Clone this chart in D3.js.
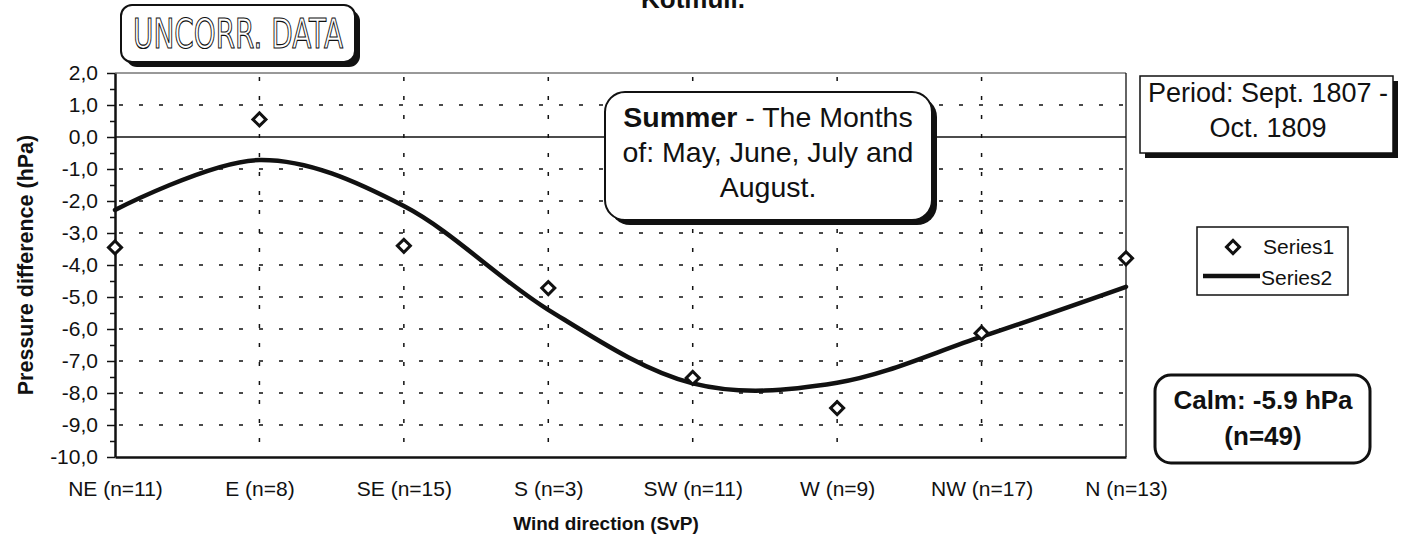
<!DOCTYPE html>
<html>
<head>
<meta charset="utf-8">
<script src="https://cdn.jsdelivr.net/npm/d3@7"></script>
<style>
  html, body { margin: 0; padding: 0; background: #fff; }
  svg { display: block; }
</style>
</head>
<body>
<div id="chart"></div>
<script>
// Wind direction categories and values
const categories = ['NE (n=11)', 'E (n=8)', 'SE (n=15)', 'S (n=3)', 'SW (n=11)', 'W (n=9)', 'NW (n=17)', 'N (n=13)'];
const series1 = [-3.45, 0.55, -3.4, -4.72, -7.53, -8.47, -6.13, -3.79];
const series2 = [-2.28, -0.72, -2.16, -5.4, -7.7, -7.68, -6.24, -4.68];
const yTicks = [2, 1, 0, -1, -2, -3, -4, -5, -6, -7, -8, -9, -10];
const yMinorTicks = [1.5, 0.5, -0.5, -1.5, -2.5, -3.5, -4.5, -5.5, -6.5, -7.5, -8.5, -9.5];
const legendLabels = ['Series1', 'Series2'];

const W = 1406, H = 539;
const font = '"Liberation Sans", Arial, sans-serif';

const svg = d3.select('#chart').append('svg')
    .attr('width', W)
    .attr('height', H)
    .attr('font-family', font);

const x = d3.scalePoint()
    .domain(categories)
    .range([115, 1126]);

const y = d3.scaleLinear()
    .domain([-10, 2])
    .range([457, 73]);

const fmt = d => d.toFixed(1).replace('.', ',');

// Grid lines
const grid = svg.append('g');
grid.selectAll('line.hgrid')
    .data(yTicks.filter(d => d !== 0 && d !== 2 && d !== -10))
    .enter().append('line')
    .attr('class', 'hgrid')
    .attr('x1', x.range()[0] + 4)
    .attr('x2', x.range()[1])
    .attr('y1', d => y(d))
    .attr('y2', d => y(d))
    .attr('stroke', '#111')
    .attr('stroke-width', 1.5)
    .attr('stroke-dasharray', '4,16');

grid.selectAll('line.vgrid')
    .data(categories.slice(1, -1))
    .enter().append('line')
    .attr('class', 'vgrid')
    .attr('x1', d => x(d))
    .attr('x2', d => x(d))
    .attr('y1', y(2) + 4)
    .attr('y2', y(-10))
    .attr('stroke', '#111')
    .attr('stroke-width', 1.5)
    .attr('stroke-dasharray', '4,15');

// Zero line, top and right border
grid.append('line')
    .attr('x1', x.range()[0]).attr('x2', x.range()[1])
    .attr('y1', y(0)).attr('y2', y(0))
    .attr('stroke', '#111').attr('stroke-width', 1.3);
grid.append('line')
    .attr('x1', x.range()[0]).attr('x2', x.range()[1])
    .attr('y1', y(2)).attr('y2', y(2))
    .attr('stroke', '#333').attr('stroke-width', 1);
grid.append('line')
    .attr('x1', x.range()[1]).attr('x2', x.range()[1])
    .attr('y1', y(2)).attr('y2', y(-10))
    .attr('stroke', '#111').attr('stroke-width', 1.3);

// Y axis
const yAxis = svg.append('g')
    .attr('transform', `translate(${x.range()[0]},0)`)
    .call(d3.axisLeft(y).tickValues(yTicks).tickFormat(fmt).tickSize(8).tickSizeOuter(0).tickPadding(9));
yAxis.selectAll('text')
    .attr('font-family', font)
    .attr('font-size', 21)
    .attr('fill', '#111');
yAxis.selectAll('line').attr('stroke', '#111').attr('stroke-width', 1.5);
yAxis.select('.domain').attr('stroke', '#111').attr('stroke-width', 2.5);

svg.append('g')
    .attr('transform', `translate(${x.range()[0]},0)`)
    .call(d3.axisLeft(y).tickValues(yMinorTicks).tickFormat('').tickSize(5).tickSizeOuter(0))
    .call(g => g.select('.domain').remove())
    .selectAll('line').attr('stroke', '#111').attr('stroke-width', 1.5);

// X axis
const xAxis = svg.append('g')
    .attr('transform', `translate(0,${y(-10)})`)
    .call(d3.axisBottom(x).tickSize(0).tickSizeOuter(0).tickPadding(24));
xAxis.selectAll('text')
    .attr('font-family', font)
    .attr('font-size', 21)
    .attr('fill', '#111');
xAxis.select('.domain').attr('stroke', '#111').attr('stroke-width', 2.5);

// Series2 smoothed line
const line = d3.line()
    .x((d, i) => x(categories[i]))
    .y(d => y(d))
    .curve(d3.curveCardinal.tension(0));

svg.append('path')
    .datum(series2)
    .attr('d', line)
    .attr('fill', 'none')
    .attr('stroke', '#111')
    .attr('stroke-width', 4.5)
    .attr('stroke-linecap', 'round');

// Series1 diamond markers
const diamond = d3.symbol().type(d3.symbolSquare).size(85);
svg.append('g').selectAll('path.pt')
    .data(series1)
    .enter().append('path')
    .attr('class', 'pt')
    .attr('d', diamond)
    .attr('transform', (d, i) => `translate(${x(categories[i])},${y(d)}) rotate(45)`)
    .attr('fill', '#fff')
    .attr('stroke', '#111')
    .attr('stroke-width', 3);

// Axis titles
svg.append('text')
    .attr('transform', 'translate(33,265) rotate(-90)')
    .attr('text-anchor', 'middle')
    .attr('font-size', 21.5)
    .attr('font-weight', 'bold')
    .attr('fill', '#111')
    .text('Pressure difference (hPa)');

svg.append('text')
    .attr('x', 606)
    .attr('y', 530)
    .attr('text-anchor', 'middle')
    .attr('font-size', 19)
    .attr('font-weight', 'bold')
    .attr('fill', '#111')
    .text('Wind direction (SvP)');

// Chart title, cut by the top edge as in the source
svg.append('text')
    .attr('x', 693)
    .attr('y', 8)
    .attr('text-anchor', 'middle')
    .attr('font-size', 26)
    .attr('font-weight', 'bold')
    .attr('fill', '#111')
    .text('Kotmull.');

// Boxes with optional drop shadow
function box(bx, by, bw, bh, rx, shadow, sw) {
    const g = svg.append('g');
    if (shadow) {
        g.append('rect')
            .attr('x', bx + shadow).attr('y', by + shadow)
            .attr('width', bw).attr('height', bh)
            .attr('rx', rx)
            .attr('fill', '#111');
    }
    g.append('rect')
        .attr('x', bx).attr('y', by)
        .attr('width', bw).attr('height', bh)
        .attr('rx', rx)
        .attr('fill', '#fff')
        .attr('stroke', '#111')
        .attr('stroke-width', sw);
    return g;
}

// UNCORR. DATA stamp
const stamp = box(121, 5, 234, 57, 11, 5, 2);
stamp.append('text')
    .attr('x', 238)
    .attr('y', 48)
    .attr('text-anchor', 'middle')
    .attr('font-family', '"DejaVu Sans", sans-serif')
    .attr('font-size', 40)
    .attr('textLength', 210)
    .attr('lengthAdjust', 'spacingAndGlyphs')
    .attr('fill', '#fff')
    .attr('stroke', '#111')
    .attr('stroke-width', 1.2)
    .text('UNCORR. DATA');

// Season note
const summer = box(605, 92, 327, 128, 20, 5, 2);
const summerText = summer.append('text')
    .attr('text-anchor', 'middle')
    .attr('font-size', 28.5)
    .attr('fill', '#111');
const l1 = summerText.append('tspan').attr('x', 768).attr('y', 127);
l1.append('tspan').attr('font-weight', 'bold').text('Summer');
l1.append('tspan').text(' - The Months');
summerText.append('tspan').attr('x', 768).attr('y', 162).text('of: May, June, July and');
summerText.append('tspan').attr('x', 768).attr('y', 197).text('August.');

// Period note
const period = box(1140, 76, 253, 77, 0, 5, 1.5);
period.append('text')
    .attr('text-anchor', 'middle')
    .attr('font-size', 27)
    .attr('fill', '#111')
    .selectAll('tspan')
    .data(['Period: Sept. 1807 -', 'Oct. 1809'])
    .enter().append('tspan')
    .attr('x', 1268)
    .attr('y', (d, i) => 102 + i * 35)
    .text(d => d);

// Calm note
const calm = box(1155, 375, 215, 88, 16, 0, 3);
calm.append('text')
    .attr('text-anchor', 'middle')
    .attr('font-size', 26)
    .attr('font-weight', 'bold')
    .attr('fill', '#111')
    .selectAll('tspan')
    .data(['Calm: -5.9 hPa', '(n=49)'])
    .enter().append('tspan')
    .attr('x', 1263)
    .attr('y', (d, i) => 409 + i * 36)
    .text(d => d);

// Legend
const legend = box(1197, 227, 151, 68, 0, 0, 1.5);
legend.append('path')
    .attr('d', diamond)
    .attr('transform', 'translate(1233,247) rotate(45)')
    .attr('fill', '#fff')
    .attr('stroke', '#111')
    .attr('stroke-width', 3);
legend.append('line')
    .attr('x1', 1203).attr('x2', 1260)
    .attr('y1', 276).attr('y2', 276)
    .attr('stroke', '#111')
    .attr('stroke-width', 4.5);
legend.selectAll('text.leg')
    .data(legendLabels)
    .enter().append('text')
    .attr('class', 'leg')
    .attr('x', (d, i) => i === 0 ? 1263 : 1261)
    .attr('y', (d, i) => 254 + i * 31)
    .attr('font-size', 21)
    .attr('fill', '#111')
    .text(d => d);
</script>
</body>
</html>
